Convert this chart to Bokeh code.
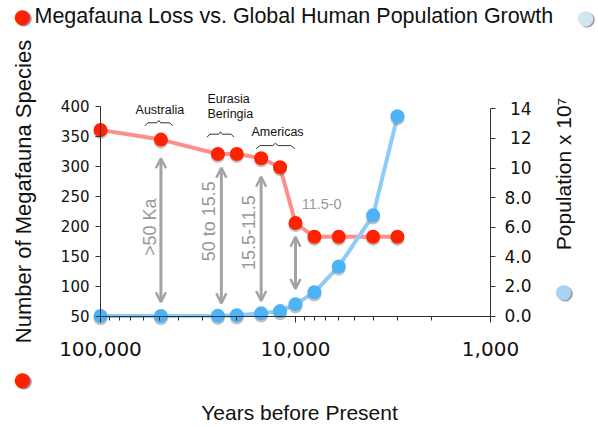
import math
import numpy as np
from bokeh.plotting import figure
from bokeh.models import (Range1d, LinearAxis, FixedTicker, LogTicker, NumeralTickFormatter,
                          CustomJSTickFormatter, ColumnDataSource, Label, Arrow, OpenHead)
from bokeh.transform import dodge
from bokeh.core.properties import value
from bokeh.embed import file_html
from bokeh.resources import INLINE

# ---------------- data ----------------
title_text = "Megafauna Loss vs. Global Human Population Growth"
x_title = "Years before Present"
y_title = "Number of Megafauna Species"
y2_title = "Population x 10\u2077"

fauna_years = [100000, 49000, 25000, 20000, 15000, 12000, 10000, 8000, 6000, 4000, 3000]
fauna_species = [360, 344, 320, 320, 313, 298, 205, 182, 182, 182, 182]

pop_years = [100000, 49000, 25000, 20000, 15000, 12000, 10000, 8000, 6000, 4000, 3000]
pop_values = [0.0, 0.0, 0.02, 0.05, 0.18, 0.33, 0.8, 1.6, 3.35, 6.8, 13.5]

year_ticks = [100000, 10000, 1000]
species_ticks = [50, 100, 150, 200, 250, 300, 350, 400]
pop_ticks = [0, 2, 4, 6, 8, 10, 12, 14]

region_names = ["Australia", "Eurasia", "Beringia", "Americas"]
region_x = [49600, 28300, 28300, 12360]
region_y = [393, 411, 387, 357]

brace_start = [59100, 28400, 15900]
brace_end = [42700, 20700, 10100]
brace_level = [372, 353, 334]

arrow_years = [49000, 24000, 15000, 10000]
arrow_top = [313, 297, 282, 182]
arrow_bottom = [73, 71, 75, 95]

period_labels = [">50 Ka", "50 to 15.5", "15.5-11.5", "11.5-0"]
period_x = [56000, 27700, 17500, 9300]
period_y = [198, 208, 189, 237]

# ---------------- layout (pixel geometry of the plotting area) ----------------
W, H = 598, 427
PX_X_LEFT, PX_X_RIGHT = 100.0, 490.0      # where 100,000 and 1,000 sit
PX_Y_LOW, PX_Y_HIGH = 315.5, 105.5        # where 50 and 400 species sit
PX_POP_HIGH = 108.3                       # where 14 (x10^7) sits
decade = (PX_X_RIGHT - PX_X_LEFT) / math.log10(max(year_ticks) / min(year_ticks))
X_START = max(year_ticks) * 10 ** (PX_X_LEFT / decade)
X_END = min(year_ticks) / 10 ** ((W - PX_X_RIGHT) / decade)
ppu = (PX_Y_LOW - PX_Y_HIGH) / (species_ticks[-1] - species_ticks[0])
Y_START = species_ticks[0] - (H - PX_Y_LOW) / ppu
Y_END = species_ticks[-1] + PX_Y_HIGH / ppu
pop_ppu = (PX_Y_LOW - PX_POP_HIGH) / (pop_ticks[-1] - pop_ticks[0])
POP_START = pop_ticks[0] - (H - PX_Y_LOW) / pop_ppu
POP_END = pop_ticks[-1] + PX_POP_HIGH / pop_ppu

RED = "#ff2200"
RED_LINE = "#ff8f8a"
BLUE = "#4db3f6"
BLUE_LINE = "#8fcbf5"
GRAY = "#a3a3a3"
AXIS = "#333333"
SANS = "Liberation Sans"
TICKF = "DejaVu Sans"

p = figure(width=W, height=H, x_axis_type="log", title=None,
           x_range=Range1d(X_START, X_END), y_range=Range1d(Y_START, Y_END),
           output_backend="svg", toolbar_location=None,
           min_border=0, min_border_left=0, min_border_right=0,
           min_border_top=0, min_border_bottom=0)
p.extra_y_ranges = {"pop": Range1d(POP_START, POP_END)}
p.outline_line_color = None
p.xgrid.grid_line_color = None
p.ygrid.grid_line_color = None
p.background_fill_color = "white"
p.border_fill_color = "white"

# bottom axis
xa = p.xaxis[0]
xa.ticker = LogTicker(num_minor_ticks=10)
xa.formatter = NumeralTickFormatter(format="0,0")
xa.bounds = (min(year_ticks), max(year_ticks))
xa.fixed_location = species_ticks[0]
xa.axis_line_color = AXIS
xa.major_tick_line_color = AXIS
xa.minor_tick_line_color = AXIS
xa.major_tick_in = 0
xa.major_tick_out = 6
xa.minor_tick_in = 0
xa.minor_tick_out = 4
xa.major_label_standoff = 20
xa.major_label_text_font = TICKF
xa.major_label_text_font_size = "20px"
xa.major_label_text_color = "#111111"

# left axis
ya = p.yaxis[0]
ya.ticker = FixedTicker(ticks=species_ticks)
ya.bounds = (species_ticks[0], species_ticks[-1])
ya.fixed_location = max(year_ticks)
ya.axis_line_color = AXIS
ya.major_tick_line_color = AXIS
ya.minor_tick_line_color = None
ya.major_tick_in = 0
ya.major_tick_out = 5
ya.major_label_standoff = 6
ya.major_label_text_font = TICKF
ya.major_label_text_font_size = "15px"
ya.major_label_text_color = "#111111"

# right axis
ra = LinearAxis(y_range_name="pop", ticker=FixedTicker(ticks=pop_ticks),
                formatter=CustomJSTickFormatter(
                    code="return tick < 10 ? tick.toFixed(1) : '\u2008' + tick.toFixed(0);"),
                bounds=(pop_ticks[0], pop_ticks[-1]), fixed_location=min(year_ticks))
ra.axis_line_color = AXIS
ra.major_tick_line_color = AXIS
ra.minor_tick_line_color = None
ra.major_tick_in = 0
ra.major_tick_out = 5
ra.major_label_standoff = 9
ra.major_label_text_font = TICKF
ra.major_label_text_font_size = "17px"
ra.major_label_text_color = "#111111"
p.add_layout(ra, "right")

# ---------------- series ----------------
src_f = ColumnDataSource(dict(year=fauna_years, species=fauna_species))
src_p = ColumnDataSource(dict(year=pop_years, pop=pop_values))

p.line("year", "species", source=src_f, line_color=RED_LINE, line_width=4)
p.line("year", "pop", source=src_p, y_range_name="pop", line_color=BLUE_LINE, line_width=4)

p.scatter(x="year", y=dodge("species", -3.5), source=src_f, size=14,
          fill_color="#777777", fill_alpha=0.45, line_color=None)
p.scatter(x="year", y=dodge("pop", -0.15), source=src_p, y_range_name="pop", size=14,
          fill_color="#777777", fill_alpha=0.45, line_color=None)
p.scatter("year", "species", source=src_f, size=14, fill_color=RED, line_color=None)
p.scatter("year", "pop", source=src_p, y_range_name="pop", size=14, fill_color=BLUE, line_color=None)

# ---------------- arrows ----------------
src_a = ColumnDataSource(dict(x=arrow_years, top=arrow_top, bottom=arrow_bottom))
p.add_layout(Arrow(start=OpenHead(size=10, line_color=GRAY, line_width=2.5),
                   end=OpenHead(size=10, line_color=GRAY, line_width=2.5),
                   x_start="x", y_start="bottom", x_end="x", y_end="top",
                   source=src_a, line_color=GRAY, line_width=3))

# period labels
src_rot = ColumnDataSource(dict(x=period_x[:3], y=period_y[:3], text=period_labels[:3]))
p.text(x="x", y="y", text="text", source=src_rot, angle=math.pi / 2,
       text_align="center", text_baseline="middle", text_color="#999999",
       text_font=value(SANS), text_font_size="18px")
src_h = ColumnDataSource(dict(x=period_x[3:], y=period_y[3:], text=period_labels[3:]))
p.text(x="x", y="y", text="text", source=src_h,
       text_align="left", text_baseline="middle", text_color="#999999",
       text_font=value(SANS), text_font_size="14.5px")

# region labels
src_r = ColumnDataSource(dict(x=region_x, y=region_y, text=region_names,
                              align=["center", "left", "left", "center"]))
p.text(x="x", y="y", text="text", source=src_r, text_align="align",
       text_baseline="middle", text_color="#111111",
       text_font=value(SANS), text_font_size="12.5px")

# braces built from region spans
bxs, bys = [], []
for s, e, lv in zip(brace_start, brace_end, brace_level):
    ls, le = math.log10(s), math.log10(e)
    m = (ls + le) / 2
    d = le - ls
    xs = 10 ** np.array([ls, ls + 0.1 * d, m - 0.07 * d, m, m + 0.07 * d, le - 0.1 * d, le])
    ys = [lv - 5, lv, lv, lv + 4, lv, lv, lv - 5]
    bxs.append(list(xs))
    bys.append(ys)
p.multi_line(xs=bxs, ys=bys, line_color="#333333", line_width=1)

# ---------------- titles (screen units; page x, page y from top) ----------------
def lab(text, x, y, size, color="#111111", angle=0.0, align="left", font=SANS):
    p.add_layout(Label(x=x, y=H - y, x_units="screen", y_units="screen", text=text,
                       angle=angle, text_align=align, text_baseline="middle",
                       text_font=font, text_font_size=size, text_color=color))

def dot(x, y, color):
    lab("\u25cf", x + 1.5, y + 1.5, "20px", color="#9a9a9a", align="center", font=TICKF)
    lab("\u25cf", x, y, "20px", color=color, align="center", font=TICKF)

dot(22, 15, RED)
dot(585, 16, "#cfe6f0")
dot(22, 378, RED)
dot(563, 290, "#a9d3f5")

lab(title_text, 34, 15, "21.5px")
lab(y_title, 23, 191, "22px", angle=math.pi / 2, align="center")
lab(y2_title, 562.5, 173.5, "21px", angle=math.pi / 2, align="center")
lab(x_title, 299, 412, "21px", align="center")

open("out.html", "w").write(file_html(p, INLINE))
